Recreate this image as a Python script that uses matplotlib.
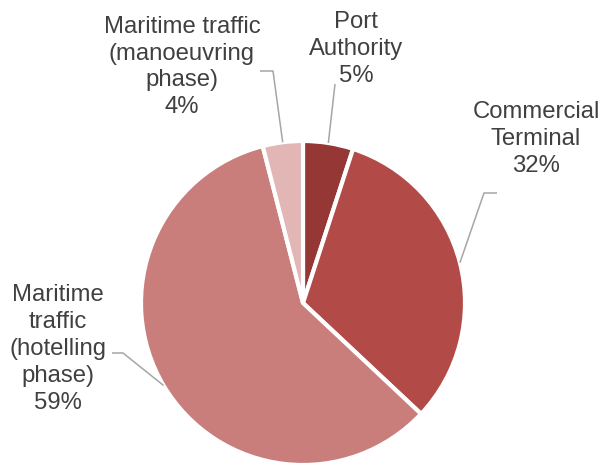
import numpy as np
import matplotlib
matplotlib.use("Agg")
import matplotlib.pyplot as plt

# Emission shares by source
categories = [
    "Port\nAuthority",
    "Commercial\nTerminal",
    "Maritime\ntraffic\n(hotelling\nphase)",
    "Maritime traffic\n(manoeuvring\nphase)",
]
shares = [5, 32, 59, 4]
colors = ["#953735", "#B24A47", "#C97E7C", "#E1B6B5"]

W, H = 604, 465
fig = plt.figure(figsize=(W / 100, H / 100), dpi=100)
ax = fig.add_axes([0, 0, 1, 1])

center = (303, H - 303)
radius = 162
wedges, _ = ax.pie(
    shares, colors=colors, startangle=90, counterclock=False,
    center=center, radius=radius,
    wedgeprops=dict(edgecolor="white", linewidth=3.0),
)
ax.set_xlim(0, W)
ax.set_ylim(0, H)
ax.set_aspect("equal")
ax.axis("off")

# label layout in pixel coordinates (from top-left): text centre, leader elbow, leader end
label_pos = [(356, 49), (536, 139), (58, 349), (182, 67)]
leader_pts = [
    [(335, 84)],
    [(484, 193), (497, 193)],
    [(123, 353), (112, 353)],
    [(273, 71), (260, 71)],
]

text_kw = dict(ha="center", va="center", multialignment="center",
               fontsize=17.2, color="#404040", family="Liberation Sans",
               linespacing=1.29)

for w, cat, val, (lx, ly), pts in zip(wedges, categories, shares, label_pos, leader_pts):
    mid = np.deg2rad((w.theta1 + w.theta2) / 2)
    sx = center[0] + radius * np.cos(mid)
    sy = center[1] + radius * np.sin(mid)
    xs = [sx] + [p[0] for p in pts]
    ys = [sy] + [H - p[1] for p in pts]
    ax.plot(xs, ys, color="#A6A6A6", lw=1.1, solid_capstyle="butt", zorder=3)
    ax.text(lx, H - ly, f"{cat}\n{val}%", **text_kw)

fig.savefig("out.png", dpi=100)
